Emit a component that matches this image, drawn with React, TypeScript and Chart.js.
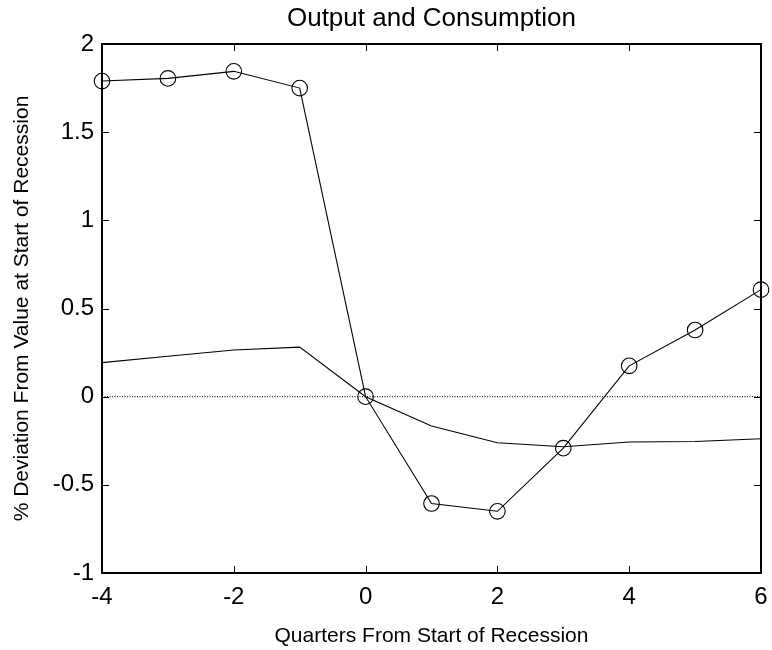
import React, { useEffect, useRef } from "react";
import { Chart, registerables } from "chart.js";

Chart.register(...registerables);

// ---- data ----
const quarters = [-4, -3, -2, -1, 0, 1, 2, 3, 4, 5, 6];
const output = [1.79, 1.805, 1.845, 1.75, 0, -0.606, -0.65, -0.292, 0.175, 0.378, 0.607];
const consumption = [0.193, 0.229, 0.265, 0.281, 0, -0.166, -0.261, -0.284, -0.257, -0.254, -0.239];
const zeroLineX = [-4, 6];
const zeroLineY = [0, 0];
const xTicks = [-4, -2, 0, 2, 4, 6];
const yTicks = [-1, -0.5, 0, 0.5, 1, 1.5, 2];
const titleText = "Output and Consumption";
const xTitleText = "Quarters From Start of Recession";
const yTitleText = "% Deviation From Value at Start of Recession";

const FONT = "'Liberation Sans', Arial, Helvetica, sans-serif";

const framePlugin = {
  id: "matlabFrame",
  beforeDatasetsDraw(chart: any) {
    const { ctx, chartArea: a, scales } = chart;
    ctx.save();
    ctx.strokeStyle = "#000";
    ctx.lineWidth = 2;
    ctx.strokeRect(a.left, a.top, a.right - a.left, a.bottom - a.top);
    const L = 7;
    ctx.beginPath();
    for (const v of xTicks) {
      const px = Math.round(scales.x.getPixelForValue(v)) + 0.5;
      ctx.moveTo(px, a.bottom);
      ctx.lineTo(px, a.bottom - L);
      ctx.moveTo(px, a.top);
      ctx.lineTo(px, a.top + L);
    }
    for (const v of yTicks) {
      const py = Math.round(scales.y.getPixelForValue(v)) + 0.5;
      ctx.moveTo(a.left, py);
      ctx.lineTo(a.left + L, py);
      ctx.moveTo(a.right, py);
      ctx.lineTo(a.right - L, py);
    }
    ctx.lineWidth = 1;
    ctx.stroke();
    ctx.restore();
  },
};

export default function App() {
  const ref = useRef<HTMLCanvasElement | null>(null);

  useEffect(() => {
    document.body.style.margin = "0";
    const canvas = ref.current;
    if (!canvas) return;
    const chart = new Chart(canvas, {
      type: "line",
      data: {
        datasets: [
          {
            label: "Output",
            data: quarters.map((q, i) => ({ x: q, y: output[i] })),
            borderColor: "#000",
            borderWidth: 1.1,
            pointRadius: 7.8,
            pointBorderWidth: 1.1,
            pointBorderColor: "#000",
            pointBackgroundColor: "rgba(0,0,0,0)",
            pointStyle: "circle",
            tension: 0,
            clip: false,
          } as any,
          {
            label: "Consumption",
            data: quarters.map((q, i) => ({ x: q, y: consumption[i] })),
            borderColor: "#000",
            borderWidth: 1.1,
            pointRadius: 0,
            tension: 0,
            clip: false,
          } as any,
          {
            label: "Zero",
            data: zeroLineX.map((q, i) => ({ x: q, y: zeroLineY[i] })),
            borderColor: "#000",
            borderWidth: 1,
            borderDash: [1, 1.5],
            pointRadius: 0,
            tension: 0,
          } as any,
        ],
      },
      options: {
        responsive: false,
        animation: false,
        events: [],
        layout: { padding: { left: 0, right: 11, top: 0, bottom: 0 } },
        plugins: {
          legend: { display: false },
          tooltip: { enabled: false },
          title: {
            display: true,
            text: titleText,
            fullSize: false,
            color: "#000",
            font: { family: FONT, size: 26, weight: "normal" },
            padding: { top: 3, bottom: 9.8 },
          },
        },
        scales: {
          x: {
            type: "linear",
            min: -4,
            max: 6,
            afterBuildTicks: (s: any) => {
              s.ticks = xTicks.map((v) => ({ value: v }));
            },
            afterFit: (s: any) => {
              s.height = 77;
              s.paddingLeft = 0;
              s.paddingRight = 0;
            },
            grid: { display: false, drawTicks: false },
            border: { display: false },
            ticks: {
              color: "#000",
              font: { family: FONT, size: 24 },
              padding: 10,
              maxRotation: 0,
              autoSkip: false,
              callback: (v: any) => String(v),
            },
            title: {
              display: true,
              text: xTitleText,
              color: "#000",
              font: { family: FONT, size: 21 },
              padding: { top: 0, bottom: 1.4 },
            },
          },
          y: {
            type: "linear",
            min: -1,
            max: 2,
            afterBuildTicks: (s: any) => {
              s.ticks = yTicks.map((v) => ({ value: v }));
            },
            afterFit: (s: any) => {
              s.width = 102;
              s.paddingTop = 0;
              s.paddingBottom = 0;
            },
            grid: { display: false, drawTicks: false },
            border: { display: false },
            ticks: {
              color: "#000",
              font: { family: FONT, size: 24 },
              padding: 8,
              autoSkip: false,
              callback: (v: any) => String(v),
            },
            title: {
              display: true,
              text: yTitleText,
              color: "#000",
              font: { family: FONT, size: 21 },
              padding: { top: 9.5, bottom: 0 },
            },
          },
        },
      } as any,
      plugins: [framePlugin],
    });
    return () => chart.destroy();
  }, []);

  return (
    <div style={{ width: 772, height: 650, background: "#fff" }}>
      <canvas ref={ref} width={772} height={650} style={{ display: "block" }} />
    </div>
  );
}
